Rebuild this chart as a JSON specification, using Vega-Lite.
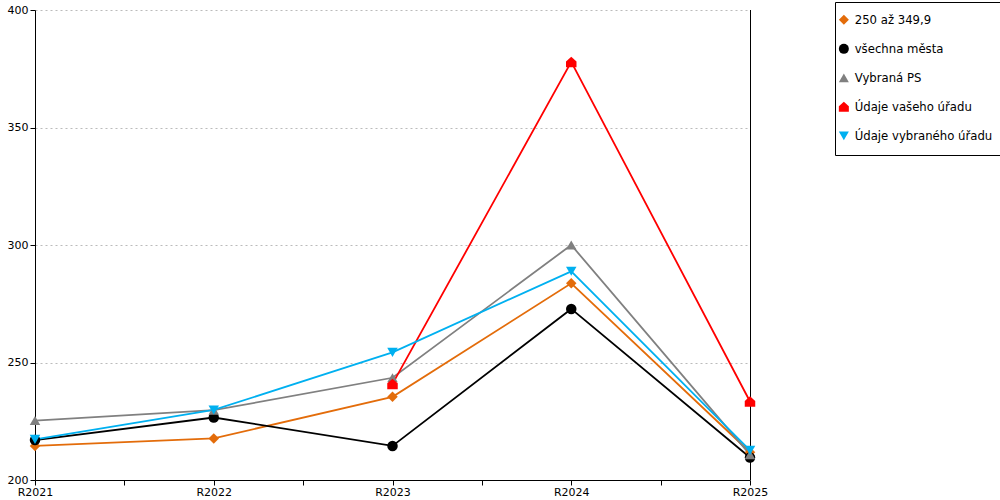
{
  "$schema": "https://vega.github.io/schema/vega-lite/v6.json",
  "width": 715,
  "height": 470,
  "autosize": "none",
  "padding": {"left": 35, "top": 10, "right": 250, "bottom": 20},
  "background": "white",
  "config": {
    "font": "DejaVu Sans",
    "view": {"stroke": null},
    "axis": {"labelFont": "DejaVu Sans", "labelFontSize": 11, "labelColor": "black", "domainColor": "black", "tickColor": "black", "title": null}
  },
  "data": {
    "values": [
      {"rok": 2021, "rada": "250 až 349,9", "hodnota": 214.5},
      {"rok": 2022, "rada": "250 až 349,9", "hodnota": 217.7},
      {"rok": 2023, "rada": "250 až 349,9", "hodnota": 235.4},
      {"rok": 2024, "rada": "250 až 349,9", "hodnota": 283.7},
      {"rok": 2025, "rada": "250 až 349,9", "hodnota": 211.8},
      {"rok": 2021, "rada": "všechna města", "hodnota": 217.0},
      {"rok": 2022, "rada": "všechna města", "hodnota": 226.6},
      {"rok": 2023, "rada": "všechna města", "hodnota": 214.5},
      {"rok": 2024, "rada": "všechna města", "hodnota": 272.8},
      {"rok": 2025, "rada": "všechna města", "hodnota": 209.6},
      {"rok": 2021, "rada": "Vybraná PS", "hodnota": 225.3},
      {"rok": 2022, "rada": "Vybraná PS", "hodnota": 229.7},
      {"rok": 2023, "rada": "Vybraná PS", "hodnota": 243.5},
      {"rok": 2024, "rada": "Vybraná PS", "hodnota": 300.0},
      {"rok": 2025, "rada": "Vybraná PS", "hodnota": 210.8},
      {"rok": 2023, "rada": "Údaje vašeho úřadu", "hodnota": 240.9},
      {"rok": 2024, "rada": "Údaje vašeho úřadu", "hodnota": 377.9},
      {"rok": 2025, "rada": "Údaje vašeho úřadu", "hodnota": 233.4},
      {"rok": 2021, "rada": "Údaje vybraného úřadu", "hodnota": 217.3},
      {"rok": 2022, "rada": "Údaje vybraného úřadu", "hodnota": 229.8},
      {"rok": 2023, "rada": "Údaje vybraného úřadu", "hodnota": 254.3},
      {"rok": 2024, "rada": "Údaje vybraného úřadu", "hodnota": 288.8},
      {"rok": 2025, "rada": "Údaje vybraného úřadu", "hodnota": 212.6}
    ]
  },
  "layer": [
    {
      "data": {"values": [{"okraj": 2025}]},
      "mark": {"type": "rule", "color": "black", "strokeWidth": 1, "xOffset": 0.5},
      "encoding": {
        "x": {
          "field": "okraj", "type": "quantitative",
          "scale": {"domain": [2021, 2025], "nice": false, "zero": false},
          "axis": {
            "values": [2021, 2021.5, 2022, 2022.5, 2023, 2023.5, 2024, 2024.5, 2025],
            "labelExpr": "datum.value % 1 == 0 ? 'R' + datum.value : ''",
            "grid": false, "tickSize": 5, "labelPadding": 1, "labelFlush": false
          }
        }
      }
    },
    {
      "mark": {"type": "line", "strokeWidth": 1.8},
      "encoding": {
        "x": {"field": "rok", "type": "quantitative"},
        "y": {
          "field": "hodnota", "type": "quantitative",
          "scale": {"domain": [200, 400], "nice": false, "zero": false},
          "axis": {
            "values": [200, 250, 300, 350, 400],
            "grid": true, "gridColor": "#bbbbbb", "gridDash": [2, 3], "gridWidth": 1,
            "tickSize": 5, "labelPadding": 2, "labelFlush": false
          }
        },
        "color": {
          "field": "rada", "type": "nominal",
          "scale": {
            "domain": ["250 až 349,9", "všechna města", "Vybraná PS", "Údaje vašeho úřadu", "Údaje vybraného úřadu"],
            "range": ["#e36c0a", "#000000", "#808080", "#ff0000", "#00b0f0"]
          }
        }
      }
    },
    {
      "mark": {"type": "point", "filled": true, "opacity": 1, "size": 110},
      "encoding": {
        "x": {"field": "rok", "type": "quantitative"},
        "y": {"field": "hodnota", "type": "quantitative"},
        "shape": {
          "field": "rada", "type": "nominal",
          "scale": {
            "domain": ["250 až 349,9", "všechna města", "Vybraná PS", "Údaje vašeho úřadu", "Údaje vybraného úřadu"],
            "range": ["diamond", "circle", "triangle-up", "M-1,1L-1,-0.1L0,-1L1,-0.1L1,1Z", "triangle-down"]
          }
        },
        "color": {
          "field": "rada", "type": "nominal",
          "legend": {
            "title": null, "orient": "none", "legendX": 800, "legendY": -8,
            "strokeColor": "black", "padding": 12, "rowPadding": 16,
            "labelFontSize": 11.7, "labelFont": "DejaVu Sans", "labelColor": "black",
            "symbolSize": 100, "labelOffset": 5, "symbolOffset": -9, "fillColor": "white",
            "symbolStrokeWidth": 0, "symbolOpacity": 1
          }
        }
      }
    }
  ]
}
